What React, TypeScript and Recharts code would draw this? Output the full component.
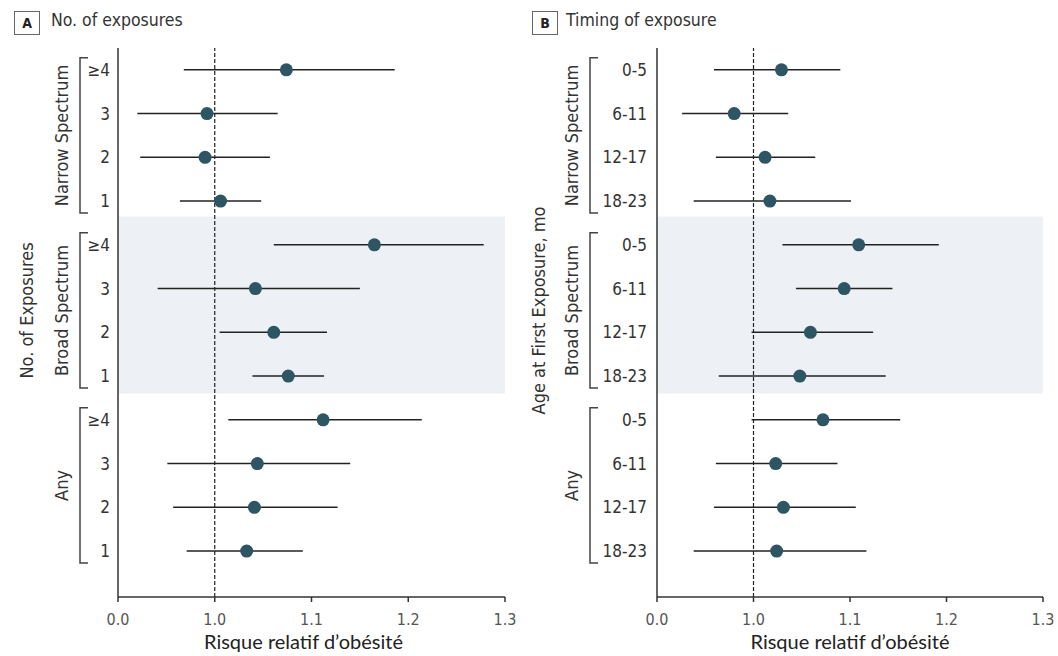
import React from 'react';
import {
  ScatterChart,
  Scatter,
  XAxis,
  YAxis,
  ErrorBar,
  ReferenceLine,
  ReferenceArea
} from 'recharts';

// Row labels and groups
const exposureLabels = ['≥4', '3', '2', '1'];
const ageLabels = ['0-5', '6-11', '12-17', '18-23'];
const groupNames = ['Narrow Spectrum', 'Broad Spectrum', 'Any'];

// Panel A: number of exposures (narrow, broad, any)
const exposureRR = [1.074, 0.992, 0.990, 1.006, 1.165, 1.042, 1.061, 1.076, 1.112, 1.044, 1.041, 1.033];
const exposureLow = [0.968, 0.920, 0.923, 0.964, 1.061, 0.941, 1.005, 1.039, 1.014, 0.951, 0.957, 0.971];
const exposureHigh = [1.186, 1.065, 1.057, 1.048, 1.278, 1.150, 1.116, 1.113, 1.214, 1.140, 1.127, 1.091];

// Panel B: age at first exposure, months
const ageRR = [1.029, 0.980, 1.012, 1.017, 1.109, 1.094, 1.059, 1.048, 1.072, 1.023, 1.031, 1.024];
const ageLow = [0.959, 0.926, 0.961, 0.938, 1.030, 1.044, 0.998, 0.964, 0.998, 0.961, 0.959, 0.938];
const ageHigh = [1.090, 1.036, 1.064, 1.101, 1.192, 1.144, 1.124, 1.137, 1.152, 1.087, 1.106, 1.117];

// x ticks; the first one sits at the axis break and reads 0.0
const xTicks = [0.9, 1.0, 1.1, 1.2, 1.3];
const xTickLabels = ['0.0', '1.0', '1.1', '1.2', '1.3'];

const W = 529;
const H = 656;
const TOP = 48;
const XAXIS_H = 59;
const Y_DOMAIN: [number, number] = [-0.5, 12.05];
const ROW = (H - TOP - XAXIS_H) / (Y_DOMAIN[1] - Y_DOMAIN[0]);
const rowTicks = Array.from({ length: 12 }, (_, i) => i);

const DOT = '#2d5563';
const INK = '#333';
const FONT = '"Liberation Sans Narrow", "DejaVu Sans Condensed", "Open Sans", sans-serif';

const buildRows = (rr: number[], lo: number[], hi: number[]) =>
  rr.map((v, i) => ({ row: i, rr: v, err: [v - lo[i], hi[i] - v] }));

interface TickOpts {
  labels: string[];
  bracketDx: number;
  groupDx: number;
  titleDx: number;
  title: string;
}

const GroupTick = (props: any, o: TickOpts) => {
  const { x, y, payload } = props;
  const i = payload.value as number;
  const inGroup = i % 4;
  const bx = x - o.bracketDx;
  return (
    <g>
      <text x={x} y={y} textAnchor="end" dominantBaseline="central" fontSize={17} fill={INK} fontFamily={FONT}>
        {o.labels[inGroup]}
      </text>
      {inGroup === 0 && (
        <g>
          <path
            d={`M${bx + 8},${y - 12} H${bx} V${y + 3 * ROW + 12} H${bx + 8}`}
            fill="none"
            stroke="#444"
            strokeWidth={1.5}
          />
          <text
            x={x - o.groupDx}
            y={y + 1.5 * ROW}
            transform={`rotate(-90 ${x - o.groupDx} ${y + 1.5 * ROW})`}
            textAnchor="middle"
            dominantBaseline="central"
            fontSize={18}
            fill={INK}
            fontFamily={FONT}
          >
            {groupNames[i / 4]}
          </text>
        </g>
      )}
      {i === 0 && (
        <text
          x={x - o.titleDx}
          y={y + 5.5 * ROW}
          transform={`rotate(-90 ${x - o.titleDx} ${y + 5.5 * ROW})`}
          textAnchor="middle"
          dominantBaseline="central"
          fontSize={18}
          fill={INK}
          fontFamily={FONT}
        >
          {o.title}
        </text>
      )}
    </g>
  );
};

const Dot = (p: any) => <circle cx={p.cx} cy={p.cy} r={6.5} fill={DOT} />;

interface PanelProps {
  letter: string;
  heading: string;
  rows: { row: number; rr: number; err: number[] }[];
  yWidth: number;
  rightMargin: number;
  tickMargin: number;
  tick: TickOpts;
  labelDx: number;
}

const Panel: React.FC<PanelProps> = ({ letter, heading, rows, yWidth, rightMargin, tickMargin, tick, labelDx }) => (
  <div style={{ position: 'relative', width: W, height: H }}>
    <div
      style={{
        position: 'absolute',
        left: letter === 'A' ? 14 : 3,
        top: 11,
        width: 24,
        height: 22,
        border: '1px solid #666',
        font: `bold 14px ${FONT}`,
        color: '#222',
        textAlign: 'center',
        lineHeight: '22px'
      }}
    >
      {letter}
    </div>
    <div
      style={{
        position: 'absolute',
        left: letter === 'A' ? 51 : 37,
        top: 9,
        font: `17.5px ${FONT}`,
        color: INK,
        lineHeight: '22px'
      }}
    >
      {heading}
    </div>
    <ScatterChart width={W} height={H} margin={{ top: TOP, right: rightMargin, bottom: 0, left: 0 }}>
      <ReferenceArea x1={0.9} x2={1.3} y1={3.35} y2={7.4} fill="#edf1f5" fillOpacity={1} stroke="none" />
      <XAxis
        type="number"
        dataKey="rr"
        domain={[0.9, 1.3]}
        ticks={xTicks}
        tickFormatter={(v: number) => xTickLabels[xTicks.indexOf(v)] ?? String(v)}
        height={XAXIS_H}
        stroke={INK}
        strokeWidth={1.5}
        tickSize={5}
        tickMargin={12}
        tick={{ fill: '#555', fontSize: 16, fontFamily: FONT }}
        allowDataOverflow
        label={{
          value: 'Risque relatif d\u2019obésité',
          position: 'insideBottom',
          offset: 7,
          dx: labelDx,
          fill: '#222',
          fontSize: 20,
          fontFamily: 'Lato, "Open Sans", sans-serif'
        }}
      />
      <YAxis
        type="number"
        dataKey="row"
        domain={Y_DOMAIN}
        reversed
        ticks={rowTicks}
        interval={0}
        width={yWidth}
        stroke={INK}
        strokeWidth={1.5}
        tickLine={false}
        tickSize={0}
        tickMargin={tickMargin}
        tick={(p: any) => GroupTick(p, tick)}
        allowDataOverflow
      />
      <ReferenceLine x={1.0} stroke="#222" strokeWidth={1.2} strokeDasharray="4 2" />
      <Scatter data={rows} shape={Dot} isAnimationActive={false}>
        <ErrorBar dataKey="err" direction="x" width={0} stroke="#222" strokeWidth={1.5} isAnimationActive={false} />
      </Scatter>
    </ScatterChart>
  </div>
);

export default function App() {
  const rowsA = buildRows(exposureRR, exposureLow, exposureHigh);
  const rowsB = buildRows(ageRR, ageLow, ageHigh);
  return (
    <div style={{ position: 'absolute', left: 0, top: 0, width: 1058, height: 656, background: '#fff', display: 'flex' }}>
      <Panel
        letter="A"
        heading="No. of exposures"
        rows={rowsA}
        yWidth={118}
        rightMargin={24}
        tickMargin={8}
        labelDx={-8}
        tick={{ labels: exposureLabels, bracketDx: 30, groupDx: 48, titleDx: 83, title: 'No. of Exposures' }}
      />
      <Panel
        letter="B"
        heading="Timing of exposure"
        rows={rowsB}
        yWidth={128}
        rightMargin={15}
        tickMargin={10}
        labelDx={0}
        tick={{ labels: ageLabels, bracketDx: 57, groupDx: 75, titleDx: 108, title: 'Age at First Exposure, mo' }}
      />
    </div>
  );
}
